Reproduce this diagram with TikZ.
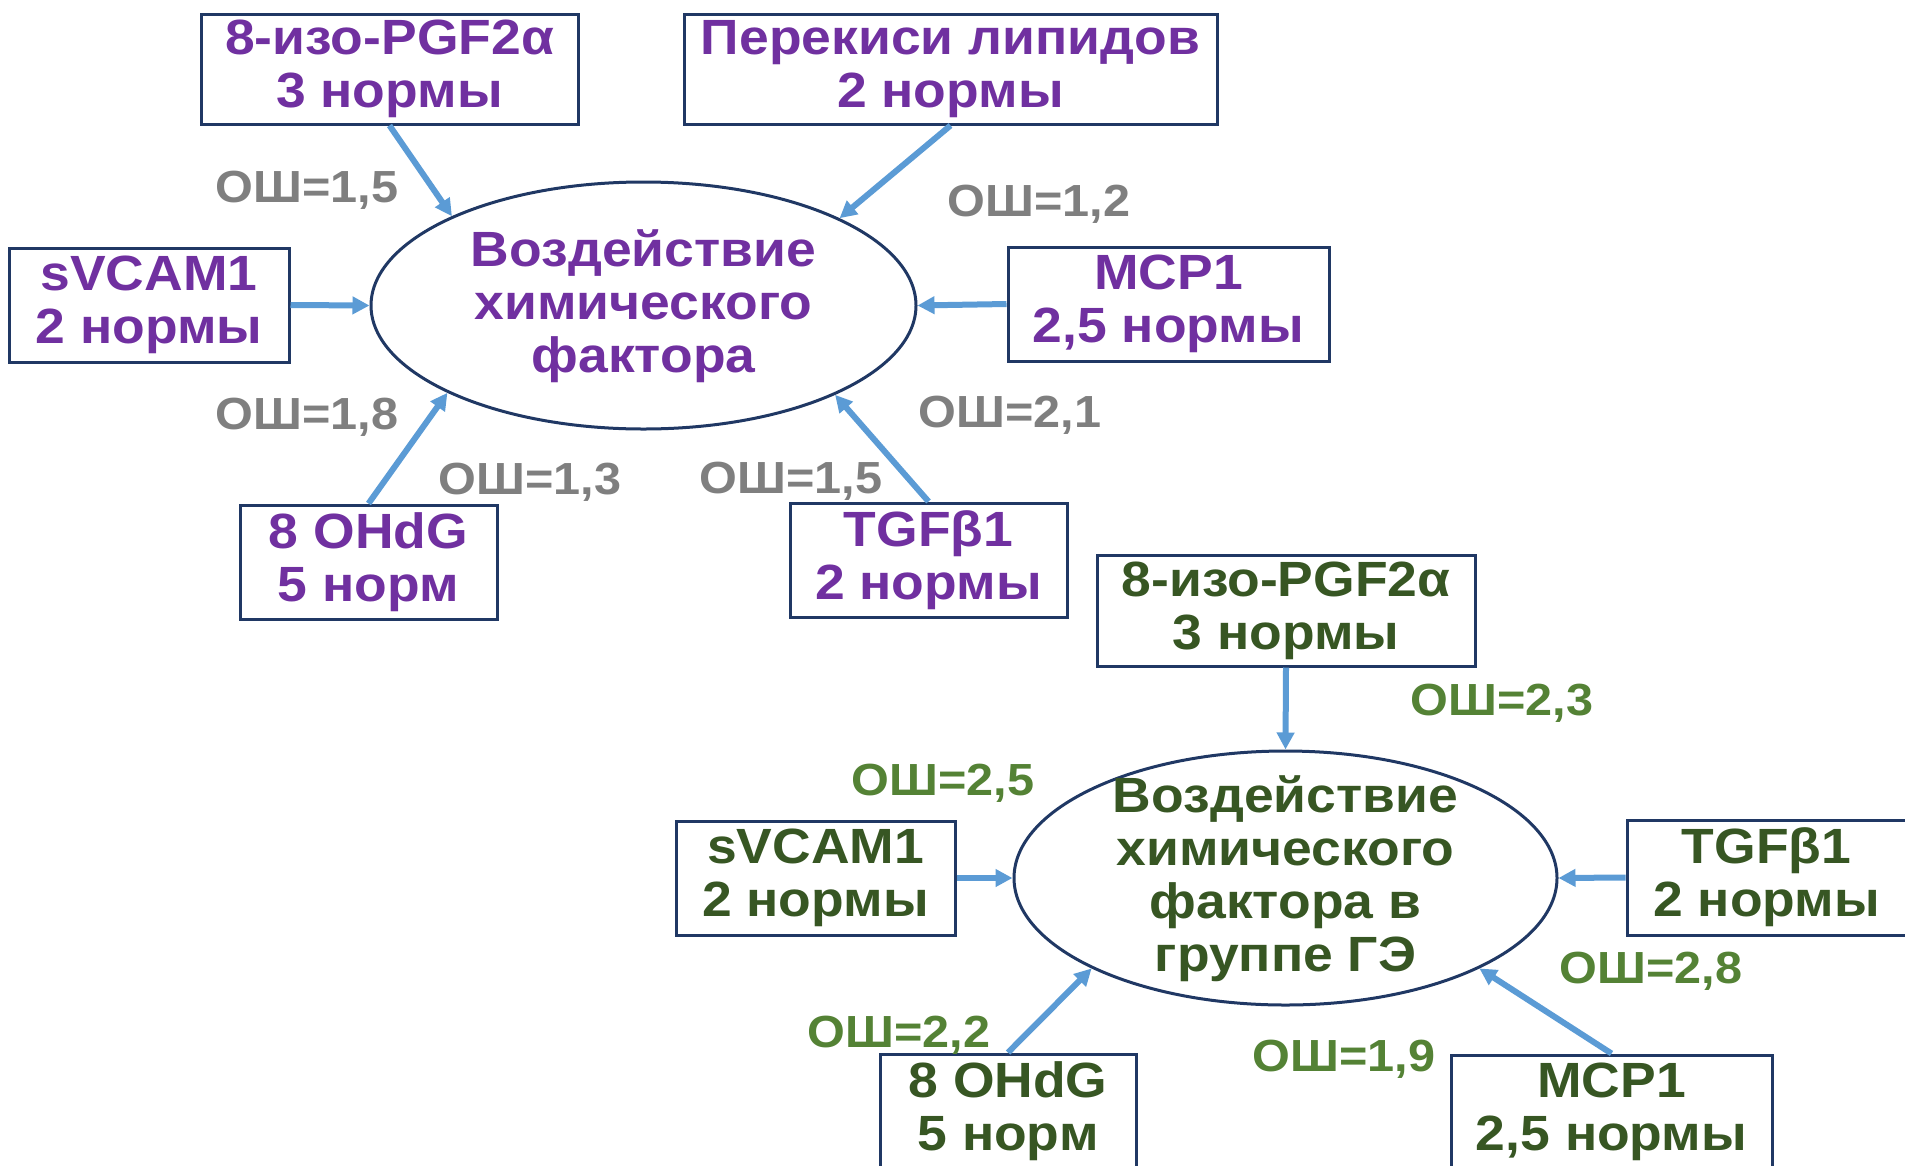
\documentclass[tikz,border=0pt]{standalone}
\usepackage{fontspec}
\setmainfont{Liberation Sans}
\newfontfamily\nodefont[FakeStretch=1.08]{Liberation Sans Bold}
\usetikzlibrary{shapes.geometric,arrows.meta}
\definecolor{purp}{HTML}{7030A0}
\definecolor{dgreen}{HTML}{375623}
\definecolor{lgreen}{HTML}{548235}
\definecolor{gry}{HTML}{7F7F7F}
\definecolor{arrowblue}{HTML}{5B9BD5}
\definecolor{navy}{HTML}{203864}
\tikzset{
  bigtext/.style={font=\nodefont\fontsize{49.5}{53}\selectfont, align=center},
  boxnode/.style={bigtext, draw=navy, line width=3pt, inner sep=0pt, fill=white,
    execute at begin node={\rule{0pt}{41pt}}},
  ellnode/.style={ellipse, draw=navy, line width=3pt, inner sep=0pt},
  oslabel/.style={font=\nodefont\fontsize{45}{50}\selectfont, inner sep=0pt},
  conn/.style={draw=arrowblue, line width=6pt, -{Triangle[length=17pt,width=17pt]}},
}
\begin{document}
\begin{tikzpicture}[x=1pt,y=-1pt]
\useasboundingbox (0,0) rectangle (1905,1165);
\clip (0,0) rectangle (1905,1165);
% ---------- top group ----------
\node[ellnode, minimum width=545pt, minimum height=247pt] (ellA) at (643.5,305.5) {};
\node[bigtext, text=purp, inner sep=0pt] (ellAt) at (643.5,306.5) {Воздействие\\химического\\фактора};
\node[boxnode, text=purp, minimum width=377pt, minimum height=110pt] (pgfA) at (389.5,69) {8-изо-PGF2α\\3 нормы};
\node[boxnode, text=purp, minimum width=533pt, minimum height=110pt] (perA) at (950.5,69) {Перекиси липидов\\2 нормы};
\node[boxnode, text=purp, minimum width=280pt, minimum height=114pt] (svA) at (149,305) {sVCAM1\\2 нормы};
\node[boxnode, text=purp, minimum width=321pt, minimum height=114pt] (mcpA) at (1168.5,304) {MCP1\\2,5 нормы};
\node[boxnode, text=purp, minimum width=257pt, minimum height=114pt] (ohA) at (368.5,562) {8 OHdG\\5 норм};
\node[boxnode, text=purp, minimum width=277pt, minimum height=114pt] (tgfA) at (928.5,560) {TGFβ1\\2 нормы};

\draw[conn] (pgfA.south) -- (ellA.155.2);
\draw[conn] (perA.south) -- (ellA.24.7);
\draw[conn] (svA.east) -- (ellA.180);
\draw[conn] (mcpA.west) -- (ellA.0);
\draw[conn] (ohA.north) -- (ellA.204.6);
\draw[conn] (tgfA.north) -- (ellA.335.5);

\node[oslabel, text=gry] (osA1) at (307,190) {ОШ=1,5};
\node[oslabel, text=gry] (osA2) at (1039,204) {ОШ=1,2};
\node[oslabel, text=gry] (osA3) at (307,417) {ОШ=1,8};
\node[oslabel, text=gry] (osA4) at (530,482) {ОШ=1,3};
\node[oslabel, text=gry] (osA5) at (791,481) {ОШ=1,5};
\node[oslabel, text=gry] (osA6) at (1010,415) {ОШ=2,1};

% ---------- bottom group ----------
\node[ellnode, minimum width=543pt, minimum height=254pt] (ellB) at (1285.5,878) {};
\node[bigtext, text=dgreen, inner sep=0pt] (ellBt) at (1285.5,879) {Воздействие\\химического\\фактора в\\группе ГЭ};
\node[boxnode, text=dgreen, minimum width=378pt, minimum height=111pt] (pgfB) at (1286,610.5) {8-изо-PGF2α\\3 нормы};
\node[boxnode, text=dgreen, minimum width=279pt, minimum height=114pt] (svB) at (815.5,878) {sVCAM1\\2 нормы};
\node[boxnode, text=dgreen, minimum width=279pt, minimum height=115pt] (tgfB) at (1766.5,877.5) {TGFβ1\\2 нормы};
\node[boxnode, text=dgreen, minimum width=256pt, minimum height=114pt] (ohB) at (1008,1111) {8 OHdG\\5 норм};
\node[boxnode, text=dgreen, minimum width=321pt, minimum height=114pt] (mcpB) at (1611.5,1112) {MCP1\\2,5 нормы};

\draw[conn] (pgfB.south) -- (ellB.90);
\draw[conn] (svB.east) -- (ellB.180);
\draw[conn] (tgfB.west) -- (ellB.0);
\draw[conn] (ohB.north) -- (ellB.205.1);
\draw[conn] (mcpB.north) -- (ellB.335.1);

\node[oslabel, text=lgreen] (osB1) at (1502,703) {ОШ=2,3};
\node[oslabel, text=lgreen] (osB2) at (943,783) {ОШ=2,5};
\node[oslabel, text=lgreen] (osB3) at (1651,971) {ОШ=2,8};
\node[oslabel, text=lgreen] (osB4) at (899,1035) {ОШ=2,2};
\node[oslabel, text=lgreen] (osB5) at (1344,1059) {ОШ=1,9};
\end{tikzpicture}
\end{document}
